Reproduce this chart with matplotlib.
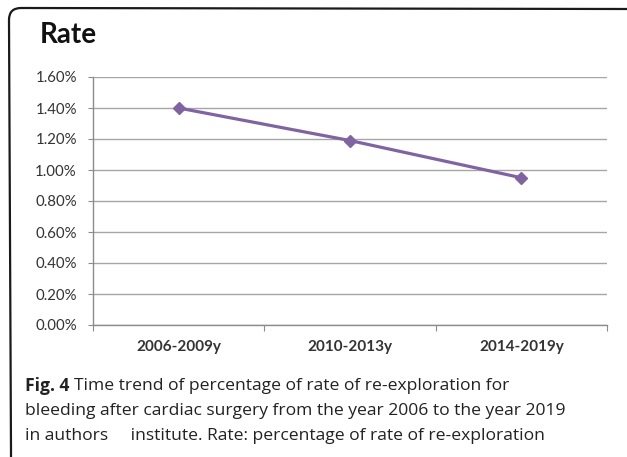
import matplotlib
matplotlib.use("Agg")
import matplotlib.pyplot as plt
from matplotlib.path import Path
from matplotlib.patches import PathPatch
from matplotlib.ticker import FuncFormatter

categories = ["2006-2009y", "2010-2013y", "2014-2019y"]
rates = [1.40, 1.19, 0.95]
y_ticks = [0.0, 0.2, 0.4, 0.6, 0.8, 1.0, 1.2, 1.4, 1.6]

W, H = 627, 457
fig = plt.figure(figsize=(W / 100, H / 100), dpi=100)

ax = fig.add_axes([93 / W, 1 - 325 / H, (607 - 93) / W, (325 - 77) / H])
x = list(range(len(categories)))
ax.plot(x, rates, color="#8064A2", lw=2.3, marker="D", ms=6.5, zorder=3)
ax.set_xlim(-0.5, len(categories) - 0.5)
ax.set_ylim(0, 1.6)
ax.set_yticks(y_ticks)
ax.yaxis.set_major_formatter(FuncFormatter(lambda v, p: f"{v:.2f}%"))
ax.grid(axis="y", color="#a6a6a6", lw=1.0)
ax.set_axisbelow(True)
for s in ["top", "right"]:
    ax.spines[s].set_visible(False)
for s in ["left", "bottom"]:
    ax.spines[s].set_color("#8c8c8c")
    ax.spines[s].set_linewidth(1.0)
ax.set_xticks([i - 0.5 for i in range(len(categories) + 1)], minor=False)
ax.set_xticklabels([])
ax.set_xticks(x, minor=True)
ax.set_xticklabels(categories, minor=True, fontfamily="Lato", fontweight="bold",
                   fontsize=11, color="#333333")
ax.tick_params(axis="x", which="major", length=4, color="#8c8c8c", direction="out")
ax.tick_params(axis="x", which="minor", length=0, pad=11)
ax.tick_params(axis="y", length=3.6, color="#8c8c8c", pad=8)
for lab in ax.get_yticklabels():
    lab.set_fontfamily("Lato")
    lab.set_fontsize(10.8)
    lab.set_color("#333333")

# Title
fig.text(40 / W, 1 - 35 / H, "Rate", fontfamily="Lato", fontweight="bold",
         fontsize=20, va="center", ha="left", color="#111111")

# Frame
r = 12
px = [(W + 2, 9), (9 + r, 8), (9, 8), (9, 8 + r), (11, H - 6), (11, H + 2)]
codes = [Path.MOVETO, Path.LINETO, Path.CURVE3, Path.CURVE3, Path.LINETO, Path.LINETO]
verts = [(a / W, 1 - b / H) for a, b in px]
fig.add_artist(PathPatch(Path(verts, codes), transform=fig.transFigure,
                         fill=False, lw=1.6, edgecolor="#1a1a1a"))

# Caption
cap_fs = 12.6
fam = "Open Sans"
y1 = 1 - 386 / H
t = fig.text(25 / W, y1, "Fig. 4", fontfamily=fam, fontweight="bold", fontsize=cap_fs,
             va="center", ha="left", color="#222222")
fig.canvas.draw()
bb = t.get_window_extent()
fig.text((bb.x1 + 5) / W, y1, "Time trend of percentage of rate of re-exploration for",
         fontfamily=fam, fontsize=cap_fs, va="center", ha="left", color="#222222")
fig.text(25 / W, 1 - 411 / H,
         "bleeding after cardiac surgery from the year 2006 to the year 2019",
         fontfamily=fam, fontsize=cap_fs, va="center", ha="left", color="#222222")
fig.text(25 / W, 1 - 436 / H,
         "in authors     institute. Rate: percentage of rate of re-exploration",
         fontfamily=fam, fontsize=cap_fs, va="center", ha="left", color="#222222")

fig.savefig("out.png", dpi=100)
